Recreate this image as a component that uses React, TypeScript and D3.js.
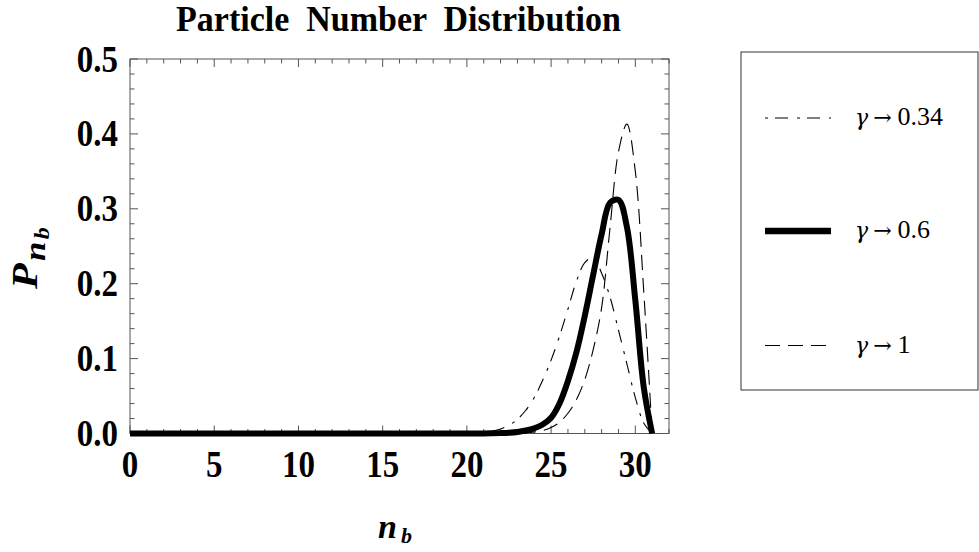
import React from 'react';
import * as d3 from 'd3';

// ---- data ----
const nb = [0, 5, 10, 15, 20, 21, 21.5, 22, 22.5, 23, 23.5, 24, 24.5, 25, 25.5, 26, 26.5, 27, 27.5, 28, 28.5, 29, 29.5, 30, 30.5, 31];
const pGamma034 = [0, 0, 0, 0, 0, 0.001, 0.003, 0.006, 0.011, 0.019, 0.031, 0.048, 0.071, 0.098, 0.13, 0.166, 0.203, 0.228, 0.235, 0.214, 0.182, 0.138, 0.093, 0.048, 0.014, 0];
const pGamma06 = [0, 0, 0, 0, 0, 0, 0.0002, 0.0005, 0.001, 0.002, 0.004, 0.007, 0.012, 0.021, 0.04, 0.07, 0.108, 0.157, 0.212, 0.266, 0.308, 0.312, 0.276, 0.178, 0.062, 0];
const pGamma1 = [0, 0, 0, 0, 0, 0, 0, 0.0001, 0.0002, 0.0005, 0.001, 0.002, 0.004, 0.008, 0.015, 0.027, 0.045, 0.072, 0.112, 0.168, 0.275, 0.376, 0.413, 0.35, 0.19, 0];

const seriesGamma = ['0.34', '0.6', '1'];
const xTicks = [0, 5, 10, 15, 20, 25, 30];
const yTicks = [0, 0.1, 0.2, 0.3, 0.4, 0.5];
const yTickLabels = ['0.0', '0.1', '0.2', '0.3', '0.4', '0.5'];
const title = 'Particle  Number  Distribution';

const W = 979;
const H = 552;
const L = 130, R = 669, T = 59, B = 433.5;

const styles = [
  { w: 1.1, dash: '3,7,13,9' },
  { w: 6, dash: '' },
  { w: 1.1, dash: '15,8' },
];

export default function App() {
  const x = d3.scaleLinear().domain([0, 32]).range([L, R]);
  const y = d3.scaleLinear().domain([0, 0.5]).range([B, T]);
  const series = [pGamma034, pGamma06, pGamma1];
  const line = d3
    .line<number>()
    .x((_, i) => x(nb[i]))
    .y((d) => y(d))
    .curve(d3.curveCatmullRom.alpha(0.5));

  const xMinor = d3.range(0, 33, 1);
  const yMinor = d3.range(0, 26, 1).map((k) => k * 0.02);
  const frame = '#555';
  const serif = "'Liberation Serif', 'Times New Roman', serif";

  const legendRowsY = [118, 231, 345.5];

  return (
    <svg width={W} height={H} style={{ position: 'absolute', left: 0, top: 0, background: '#fff' }} fontFamily={serif}>
      <rect x={0} y={0} width={W} height={H} fill="#fff" />
      {/* title */}
      <text transform="translate(398.5,31) scale(1,1.06)" textAnchor="middle" fontWeight="bold" fontSize={34} style={{ whiteSpace: 'pre' }}>
        {title}
      </text>

      {/* ticks */}
      <g stroke={frame} strokeWidth={1}>
        {xMinor.map((v) => {
          const len = v % 5 === 0 ? 8 : 4.5;
          const px = x(v);
          return (
            <g key={'xt' + v}>
              <line x1={px} x2={px} y1={B} y2={B - len} />
              <line x1={px} x2={px} y1={T} y2={T + len} />
            </g>
          );
        })}
        {yMinor.map((v, k) => {
          const len = k % 5 === 0 ? 8 : 4.5;
          const py = y(v);
          return (
            <g key={'yt' + k}>
              <line x1={L} x2={L + len} y1={py} y2={py} />
              <line x1={R} x2={R - len} y1={py} y2={py} />
            </g>
          );
        })}
      </g>
      <rect x={L} y={T} width={R - L} height={B - T} fill="none" stroke={frame} strokeWidth={1} />

      {/* curves */}
      {series.map((s, i) => (
        <path
          key={'s' + i}
          d={line(s) || ''}
          fill="none"
          stroke="#000"
          strokeWidth={styles[i].w}
          strokeDasharray={styles[i].dash || undefined}
        />
      ))}

      {/* tick labels */}
      {xTicks.map((v) => (
        <text key={'xl' + v} transform={`translate(${x(v)},477) scale(1,1.12)`} textAnchor="middle" fontWeight="bold" fontSize={33}>
          {v}
        </text>
      ))}
      {yTicks.map((v, i) => (
        <text key={'yl' + i} transform={`translate(118,${y(v) + 12.5}) scale(1,1.12)`} textAnchor="end" fontWeight="bold" fontSize={33}>
          {yTickLabels[i]}
        </text>
      ))}

      {/* axis labels */}
      <text x={378} y={538} fontWeight="bold" fontStyle="italic" fontSize={34}>
        n
        <tspan fontSize={22} dx={4} dy={5}>b</tspan>
      </text>
      <text transform="translate(37,289) rotate(-90) scale(1.2,1)" fontWeight="bold" fontStyle="italic" fontSize={35}>
        P
        <tspan fontSize={29} dx={2} dy={8}>n</tspan>
        <tspan fontSize={20} dx={2} dy={4}>b</tspan>
      </text>

      {/* legend */}
      <rect x={741} y={52} width={237} height={338} fill="#fff" stroke="#333" strokeWidth={1} />
      {seriesGamma.map((g, i) => (
        <g key={'lg' + i}>
          <line
            x1={765}
            x2={831}
            y1={legendRowsY[i]}
            y2={legendRowsY[i]}
            stroke="#000"
            strokeWidth={i === 1 ? 6.5 : 1.1}
            strokeDasharray={styles[i].dash || undefined}
          />
          <text x={855} y={legendRowsY[i] + 7} fontSize={26}>
            <tspan fontFamily="'DejaVu Serif', serif" fontStyle="italic" fontSize={22}>γ</tspan>
            <tspan fontFamily="'DejaVu Serif', serif" fontSize={22} dx={5}>→</tspan>
            <tspan dx={6}>{g}</tspan>
          </text>
        </g>
      ))}
    </svg>
  );
}
